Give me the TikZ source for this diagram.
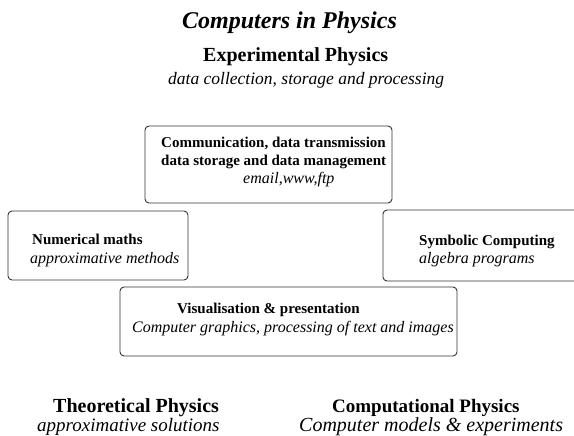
\documentclass[tikz,border=0pt]{standalone}
\usepackage{fontspec}
\setmainfont{Liberation Serif}
\begin{document}
\begin{tikzpicture}[x=1pt,y=-1pt,
  panel/.style={draw=black!80, line width=0.9pt, rounded corners=4pt},
  txt/.style={anchor=base west, inner sep=0pt},
  headfont/.style={font=\fontsize{20}{24}\selectfont\bfseries},
  subfont/.style={font=\fontsize{19}{23}\selectfont\itshape},
  boxhead/.style={font=\fontsize{15}{18}\selectfont\bfseries},
  boxsub/.style={font=\fontsize{16}{19}\selectfont\itshape}]
\useasboundingbox (0,0) rectangle (574,436);
\clip (0,0) rectangle (574,436);

% title and the three fields of physics
\node[txt, font=\fontsize{24}{28}\selectfont\bfseries\itshape] (title) at (182,29) {Computers in Physics};
\node[txt, headfont] (exp) at (203,62) {Experimental Physics};
\node[txt, font=\fontsize{17.5}{21}\selectfont\itshape] (expsub) at (168,85) {data collection, storage and processing};
\node[txt, headfont] (theo) at (53,412) {Theoretical Physics};
\node[txt, subfont] (theosub) at (37,431) {approximative solutions};
\node[txt, font=\fontsize{19}{23}\selectfont\bfseries] (comp) at (332,412) {Computational Physics};
\node[txt, font=\fontsize{20}{24}\selectfont\itshape] (compsub) at (299,431) {Computer models \& experiments};

% panels
\draw[panel] (145,126) rectangle (392,203);
\coordinate (commbox) at (268,164);
\draw[panel] (8,211) rectangle (188,280);
\coordinate (numbox) at (98,245);
\draw[panel] (383,210) rectangle (600,281);
\coordinate (symbox) at (490,245);
\draw[panel] (120,287) rectangle (457,356);
\coordinate (visbox) at (288,321);

% panel texts
\node[txt, boxhead] (comm1) at (161,148) {Communication, data transmission};
\node[txt, boxhead] (comm2) at (161,166) {data storage and data management};
\node[txt, boxsub] (comm3) at (243,183) {email,www,ftp};
\node[txt, boxhead] (num1) at (32,244) {Numerical maths};
\node[txt, boxsub] (num2) at (30,263) {approximative methods};
\node[txt, boxhead] (sym1) at (419,245) {Symbolic Computing};
\node[txt, boxsub] (sym2) at (419,263) {algebra programs};
\node[txt, boxhead] (vis1) at (177,313) {Visualisation \& presentation};
\node[txt, boxsub] (vis2) at (132,332) {Computer graphics, processing of text and images};
\end{tikzpicture}
\end{document}
